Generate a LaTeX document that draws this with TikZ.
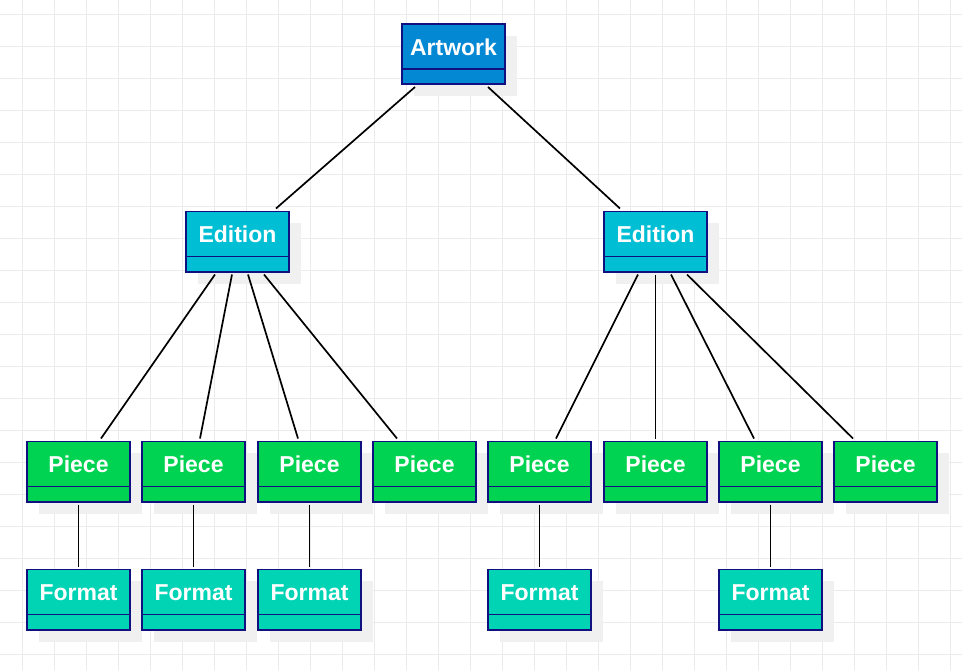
\documentclass[tikz,border=0pt]{standalone}
\usepackage{fontspec}
\setmainfont{Liberation Sans}
\usetikzlibrary{shadows}
\definecolor{gridc}{RGB}{235,235,235}
\definecolor{navy}{RGB}{16,16,128}
\definecolor{artc}{RGB}{3,136,212}
\definecolor{edc}{RGB}{0,190,212}
\definecolor{pcc}{RGB}{0,210,82}
\definecolor{fmc}{RGB}{0,212,180}
\definecolor{shadc}{RGB}{240,240,240}
\tikzset{
  box/.style={draw=navy, line width=1.8pt, minimum width=103.2pt, inner xsep=0pt, inner ysep=0pt,
    text height=31.2pt, text depth=29pt, text=white, font=\bfseries\fontsize{23}{26}\selectfont,
    drop shadow={shadow xshift=12pt, shadow yshift=-12pt, fill=shadc, opacity=1}},
  divider/.style={draw=navy, line width=1.8pt},
  conn/.style={draw=black, line width=1.7pt}
}
\newcommand\mybox[5]{%
  \node[box, fill=#5] (#1) at (#2,#3) {#4};
  \draw[divider] ([yshift=16pt]#1.south west) -- ([yshift=16pt]#1.south east);
}
\begin{document}
\begin{tikzpicture}[x=1pt,y=-1pt]
\useasboundingbox (0,0) rectangle (962,670);
\fill[white] (0,0) rectangle (962,670);
\foreach \gx in {22,54,...,950} \draw[gridc, line width=1pt] (\gx,0) -- (\gx,670);
\foreach \gy in {14,46,...,660} \draw[gridc, line width=1pt] (0,\gy) -- (962,\gy);

\mybox{art}{453.5}{54}{Artwork}{artc}
\mybox{edA}{237.5}{241.5}{Edition}{edc}
\mybox{edB}{655.5}{241.5}{Edition}{edc}
\mybox{p1}{78.5}{471.5}{Piece}{pcc}
\mybox{p2}{193.5}{471.5}{Piece}{pcc}
\mybox{p3}{309.5}{471.5}{Piece}{pcc}
\mybox{p4}{424.5}{471.5}{Piece}{pcc}
\mybox{p5}{539.5}{471.5}{Piece}{pcc}
\mybox{p6}{655.5}{471.5}{Piece}{pcc}
\mybox{p7}{770.5}{471.5}{Piece}{pcc}
\mybox{p8}{885.5}{471.5}{Piece}{pcc}
\mybox{f1}{78.5}{599.5}{Format}{fmc}
\mybox{f2}{193.5}{599.5}{Format}{fmc}
\mybox{f3}{309.5}{599.5}{Format}{fmc}
\mybox{f5}{539.5}{599.5}{Format}{fmc}
\mybox{f7}{770.5}{599.5}{Format}{fmc}

\draw[conn] ([xshift=-38.5pt,yshift=-2pt]art.south) -- ([xshift=38.5pt,yshift=2pt]edA.north);
\draw[conn] ([xshift=34.5pt,yshift=-2pt]art.south) -- ([xshift=-35.5pt,yshift=2pt]edB.north);

\draw[conn] ([xshift=-22.5pt,yshift=-2pt]edA.south) -- ([xshift=22.5pt,yshift=2pt]p1.north);
\draw[conn] ([xshift=-5.5pt,yshift=-2pt]edA.south) -- ([xshift=6.5pt,yshift=2pt]p2.north);
\draw[conn] ([xshift=10.5pt,yshift=-2pt]edA.south) -- ([xshift=-11.5pt,yshift=2pt]p3.north);
\draw[conn] ([xshift=26.5pt,yshift=-2pt]edA.south) -- ([xshift=-27.5pt,yshift=2pt]p4.north);

\draw[conn] ([xshift=-17.5pt,yshift=-2pt]edB.south) -- ([xshift=16.5pt,yshift=2pt]p5.north);
\draw[conn] ([yshift=-2pt]edB.south) -- ([yshift=2pt]p6.north);
\draw[conn] ([xshift=15.5pt,yshift=-2pt]edB.south) -- ([xshift=-16.5pt,yshift=2pt]p7.north);
\draw[conn] ([xshift=31.5pt,yshift=-2pt]edB.south) -- ([xshift=-32.5pt,yshift=2pt]p8.north);

\draw[conn] ([yshift=-2pt]p1.south) -- ([yshift=2pt]f1.north);
\draw[conn] ([yshift=-2pt]p2.south) -- ([yshift=2pt]f2.north);
\draw[conn] ([yshift=-2pt]p3.south) -- ([yshift=2pt]f3.north);
\draw[conn] ([yshift=-2pt]p5.south) -- ([yshift=2pt]f5.north);
\draw[conn] ([yshift=-2pt]p7.south) -- ([yshift=2pt]f7.north);
\end{tikzpicture}
\end{document}
